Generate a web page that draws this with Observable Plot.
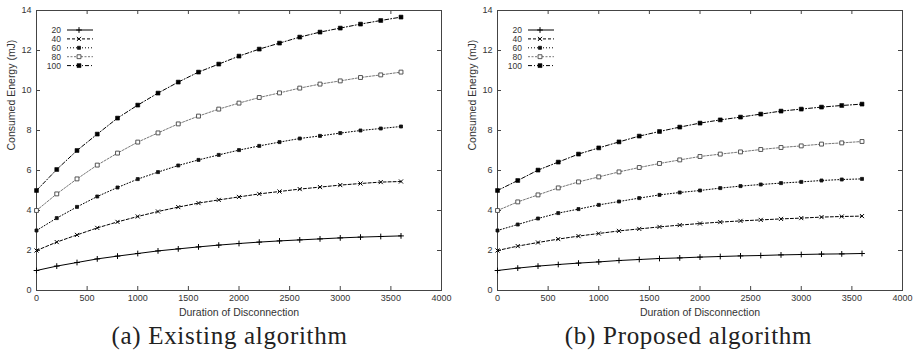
<!DOCTYPE html>
<html>
<head>
<meta charset="utf-8">
<script src="https://cdn.jsdelivr.net/npm/d3@7"></script>
<script src="https://cdn.jsdelivr.net/npm/@observablehq/plot@0.6"></script>
<style>
  html, body { margin: 0; padding: 0; background: #fff; }
  #wrap { display: flex; flex-direction: row; width: 918px; }
  .panel { position: relative; width: 459px; }
  .panel svg.plot { display: block; }
  .cap { font-family: "Liberation Serif", "DejaVu Serif", serif; font-size: 25px; letter-spacing: 0.7px; color: #222; text-align: center; line-height: 36px; height: 37px; }
  .legend { position: absolute; left: 0; top: 0; pointer-events: none; }
</style>
</head>
<body>
<div id="wrap"></div>
<script>
// ---- data ----
const durations = [0,200,400,600,800,1000,1200,1400,1600,1800,2000,2200,2400,2600,2800,3000,3200,3400,3600];
const seriesNames = ["20","40","60","80","100"];
const xTicks = [0,500,1000,1500,2000,2500,3000,3500,4000];
const yTicks = [0,2,4,6,8,10,12,14];

// (a) Existing algorithm
const existing20  = [1.0,1.22,1.4,1.58,1.72,1.85,1.98,2.08,2.18,2.27,2.35,2.42,2.48,2.53,2.58,2.63,2.67,2.7,2.73];
const existing40  = [2.0,2.42,2.78,3.13,3.43,3.7,3.95,4.17,4.37,4.53,4.68,4.83,4.95,5.07,5.17,5.27,5.35,5.42,5.45];
const existing60  = [3.0,3.62,4.18,4.7,5.15,5.57,5.92,6.25,6.53,6.78,7.02,7.23,7.42,7.6,7.73,7.87,8.0,8.1,8.2];
const existing80  = [4.0,4.83,5.58,6.27,6.87,7.42,7.88,8.33,8.72,9.07,9.37,9.65,9.88,10.12,10.32,10.48,10.65,10.78,10.92];
const existing100 = [5.0,6.05,7.0,7.82,8.62,9.27,9.87,10.42,10.92,11.32,11.72,12.07,12.37,12.67,12.92,13.12,13.32,13.5,13.67];

// (b) Proposed algorithm
const proposed20  = [1.0,1.12,1.22,1.3,1.37,1.43,1.5,1.55,1.6,1.63,1.67,1.7,1.73,1.75,1.78,1.8,1.82,1.83,1.85];
const proposed40  = [2.0,2.22,2.4,2.57,2.72,2.85,2.98,3.08,3.18,3.27,3.35,3.42,3.48,3.53,3.58,3.62,3.67,3.7,3.72];
const proposed60  = [3.0,3.3,3.6,3.87,4.07,4.28,4.45,4.62,4.78,4.9,5.0,5.12,5.22,5.3,5.37,5.43,5.5,5.55,5.58];
const proposed80  = [4.0,4.43,4.78,5.13,5.43,5.68,5.93,6.15,6.35,6.53,6.7,6.82,6.93,7.05,7.15,7.23,7.32,7.38,7.45];
const proposed100 = [5.0,5.5,6.02,6.42,6.82,7.13,7.43,7.72,7.95,8.17,8.37,8.53,8.67,8.82,8.97,9.07,9.17,9.25,9.32];

const captions = ["(a) Existing algorithm", "(b) Proposed algorithm"];
const xLabel = "Duration of Disconnection";
const yLabel = "Consumed Energy (mJ)";

// ---- styles ----
const styles = {
  "20":  {stroke: "#000", dash: null,      symbol: "plus",   fill: "none", dotStroke: "#000", r: 2.0, sw: 1},
  "40":  {stroke: "#000", dash: "3,2",     symbol: "times",  fill: "none", dotStroke: "#000", r: 2.0, sw: 1},
  "60":  {stroke: "#000", dash: "1,2",     symbol: "square", fill: "#111", dotStroke: "#111", r: 1.7, sw: 0.8},
  "80":  {stroke: "#777", dash: "2,1.5",   symbol: "square", fill: "#fff", dotStroke: "#444", r: 2.2, sw: 0.9},
  "100": {stroke: "#000", dash: "4,2,1,2", symbol: "square", fill: "#000", dotStroke: "#000", r: 2.2, sw: 0.6}
};

function build(seriesArrays) {
  const rows = [];
  seriesNames.forEach((s, i) => {
    durations.forEach((d, j) => rows.push({series: s, x: d, y: seriesArrays[i][j]}));
  });
  return rows;
}

const panels = [
  {data: build([existing20, existing40, existing60, existing80, existing100]), marginLeft: 36, marginRight: 18, caption: captions[0]},
  {data: build([proposed20, proposed40, proposed60, proposed80, proposed100]), marginLeft: 38, marginRight: 16, caption: captions[1]}
];

const W = 459, H = 318, MT = 10, MB = 28;
const fontFam = "'Liberation Sans', Arial, Helvetica, sans-serif";
const wrap = document.getElementById("wrap");

panels.forEach(p => {
  const fw = W - p.marginLeft - p.marginRight;
  const fh = H - MT - MB;
  const tickLen = 4;
  const marks = [
    Plot.frame({stroke: "#444", strokeWidth: 1}),
    // inward ticks (bottom/top/left/right)
    Plot.ruleX(xTicks, {x: d => d, insetTop: fh - tickLen, stroke: "#444"}),
    Plot.ruleX(xTicks, {x: d => d, insetBottom: fh - tickLen, stroke: "#444"}),
    Plot.ruleY(yTicks, {y: d => d, insetRight: fw - tickLen, stroke: "#444"}),
    Plot.ruleY(yTicks, {y: d => d, insetLeft: fw - tickLen, stroke: "#444"}),
    Plot.axisX(xTicks, {tickSize: 0, tickPadding: 4, fontSize: 9, label: null, fill: "#333", tickFormat: d => String(d)}),
    Plot.axisY(yTicks, {tickSize: 0, tickPadding: 5, fontSize: 9, label: null, fill: "#333", tickFormat: d => String(d)}),
    Plot.text([xLabel], {frameAnchor: "bottom", dy: 22, fontSize: 10.5, fill: "#333", lineAnchor: "middle"}),
    Plot.text([yLabel], {frameAnchor: "left", dx: -25, rotate: -90, fontSize: 10.5, fill: "#333", lineAnchor: "middle"})
  ];
  seriesNames.forEach(s => {
    const st = styles[s];
    const sub = p.data.filter(d => d.series === s);
    marks.push(Plot.line(sub, {x: "x", y: "y", stroke: st.stroke, strokeWidth: 1, strokeDasharray: st.dash}));
  });
  seriesNames.forEach(s => {
    const st = styles[s];
    const sub = p.data.filter(d => d.series === s);
    marks.push(Plot.dot(sub, {x: "x", y: "y", symbol: st.symbol, r: st.r, fill: st.fill, stroke: st.dotStroke, strokeWidth: st.sw}));
  });

  const chart = Plot.plot({
    width: W, height: H,
    marginLeft: p.marginLeft, marginRight: p.marginRight, marginTop: MT, marginBottom: MB,
    style: {fontFamily: fontFam, background: "#fff", overflow: "visible"},
    x: {domain: [0, 4000]},
    y: {domain: [0, 14]},
    marks
  });
  chart.classList.add("plot");

  const div = document.createElement("div");
  div.className = "panel";
  div.appendChild(chart);

  // legend overlay (gnuplot style key)
  const lg = d3.create("svg").attr("class", "legend").attr("width", 120).attr("height", 80)
    .style("font-family", fontFam);
  const sym = {plus: d3.symbolPlus, times: d3.symbolTimes, square: d3.symbolSquare};
  seriesNames.forEach((s, i) => {
    const st = styles[s];
    const yy = 30 + i * 8.9;
    const g = lg.append("g");
    g.append("text").attr("x", p.marginLeft + 25).attr("y", yy).attr("dy", "0.35em")
      .attr("text-anchor", "end").attr("font-size", 8.5).attr("fill", "#333").text(s);
    g.append("line").attr("x1", p.marginLeft + 31).attr("x2", p.marginLeft + 57).attr("y1", yy).attr("y2", yy)
      .attr("stroke", st.stroke).attr("stroke-width", 1).attr("stroke-dasharray", st.dash);
    g.append("path").attr("transform", `translate(${p.marginLeft + 43},${yy})`)
      .attr("d", d3.symbol(sym[st.symbol], Math.PI * st.r * st.r)())
      .attr("fill", st.fill).attr("stroke", st.dotStroke).attr("stroke-width", st.sw);
  });
  div.appendChild(lg.node());

  const cap = document.createElement("div");
  cap.className = "cap";
  cap.textContent = p.caption;
  div.appendChild(cap);
  wrap.appendChild(div);
});
</script>
</body>
</html>
